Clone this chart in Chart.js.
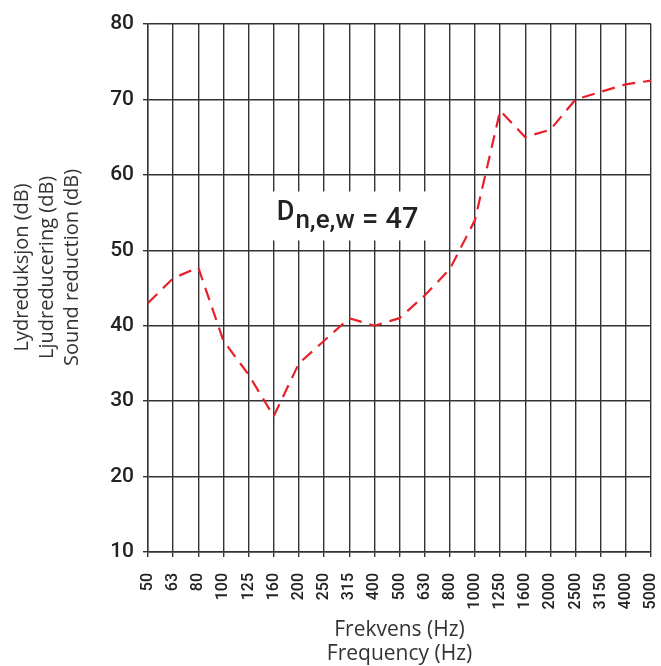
<!DOCTYPE html>
<html>
<head>
<meta charset="utf-8">
<script src="https://cdn.jsdelivr.net/npm/chart.js@4/dist/chart.umd.min.js"></script>
<style>
html,body{margin:0;padding:0;background:#fff;}
#wrap{width:661px;height:666px;position:relative;}
</style>
</head>
<body>
<div id="wrap"><canvas id="c"></canvas></div>
<script>
const frequencies = ["50","63","80","100","125","160","200","250","315","400","500","630","800","1000","1250","1600","2000","2500","3150","4000","5000"];
const soundReduction = [43,46.3,47.7,38,33.5,28,35,38,41,40,41,44,47.5,54,68.5,65,66,70,71,72,72.5];
const yTicks = [10,20,30,40,50,60,70,80];
const ratingLabel = {main:"D", sub:"n,e,w", value:" = 47"};
const yTitle = ["Lydreduksjon (dB)","Ljudreducering (dB)","Sound reduction (dB)"];
const xTitle = ["Frekvens (Hz)","Frequency (Hz)"];

const boxPlugin = {
  id:'ratingBox',
  afterDatasetsDraw(chart){
    const {ctx, scales:{x,y}} = chart;
    const left = x.getPixelForValue(5) - 2;
    const right = x.getPixelForValue(11) + 5;
    const top = y.getPixelForValue(57.8);
    const bottom = y.getPixelForValue(51.3);
    ctx.save();
    ctx.fillStyle = '#fff';
    ctx.fillRect(left, top, right-left, bottom-top);
    ctx.fillStyle = '#222';
    ctx.textBaseline = 'alphabetic';
    ctx.textAlign = 'left';
    let tx = left + 5;
    const base = bottom - 12;
    ctx.font = '500 27px Roboto';
    ctx.fillText(ratingLabel.main, tx, base - 8);
    tx += ctx.measureText(ratingLabel.main).width + 1;
    ctx.font = '500 26px Roboto';
    ctx.fillText(ratingLabel.sub, tx, base);
    tx += ctx.measureText(ratingLabel.sub).width;
    ctx.font = '500 29px Roboto';
    ctx.fillText(ratingLabel.value, tx, base);
    ctx.restore();
  }
};

const yTitlePlugin = {
  id:'yTitle',
  afterDraw(chart){
    const {ctx, chartArea} = chart;
    const cy = chartArea.top + (chartArea.bottom - chartArea.top) * 0.461;
    ctx.save();
    ctx.translate(0, cy);
    ctx.rotate(-Math.PI/2);
    ctx.fillStyle = '#333';
    ctx.font = '20px "Open Sans"';
    ctx.textAlign = 'center';
    ctx.textBaseline = 'middle';
    yTitle.forEach((t,i)=>{ ctx.fillText(t, 0, 22 + i*25); });
    ctx.restore();
  }
};

new Chart(document.getElementById('c'), {
  type:'line',
  data:{
    labels: frequencies,
    datasets:[{
      data: soundReduction,
      borderColor:'#e8202a',
      borderWidth:2.2,
      borderDash:[13,8],
      pointRadius:0,
      tension:0,
      fill:false
    }]
  },
  options:{
    responsive:true,
    maintainAspectRatio:false,
    animation:false,
    devicePixelRatio:1,
    layout:{padding:{top:24,right:10,left:0,bottom:0}},
    plugins:{legend:{display:false},tooltip:{enabled:false}},
    scales:{
      x:{
        type:'category',
        offset:false,
        grid:{color:'#333',lineWidth:1.4,tickLength:5,drawOnChartArea:true},
        border:{color:'#333',width:1.4},
        ticks:{color:'#222',font:{family:'Roboto',size:16,weight:'500'},maxRotation:90,minRotation:90,autoSkip:false,padding:16},
        title:{display:true,text:xTitle,color:'#333',font:{family:'Open Sans',size:21,lineHeight:1.15},padding:{top:4,bottom:0}},
        afterFit(s){ s.height = 114; s.paddingLeft = 0; s.paddingRight = 0; }
      },
      y:{
        min:10,max:80,
        grid:{color:'#333',lineWidth:1.4,tickLength:5},
        border:{color:'#333',width:1.4},
        afterBuildTicks(s){ s.ticks = yTicks.map(v=>({value:v})); },
        ticks:{color:'#222',font:{family:'Roboto',size:21,weight:'500'},padding:9},
        title:{display:false,text:yTitle},
        afterFit(s){ s.width = 148; s.paddingTop = 0; s.paddingBottom = 0; }
      }
    }
  },
  plugins:[boxPlugin, yTitlePlugin]
});
</script>
</body>
</html>
